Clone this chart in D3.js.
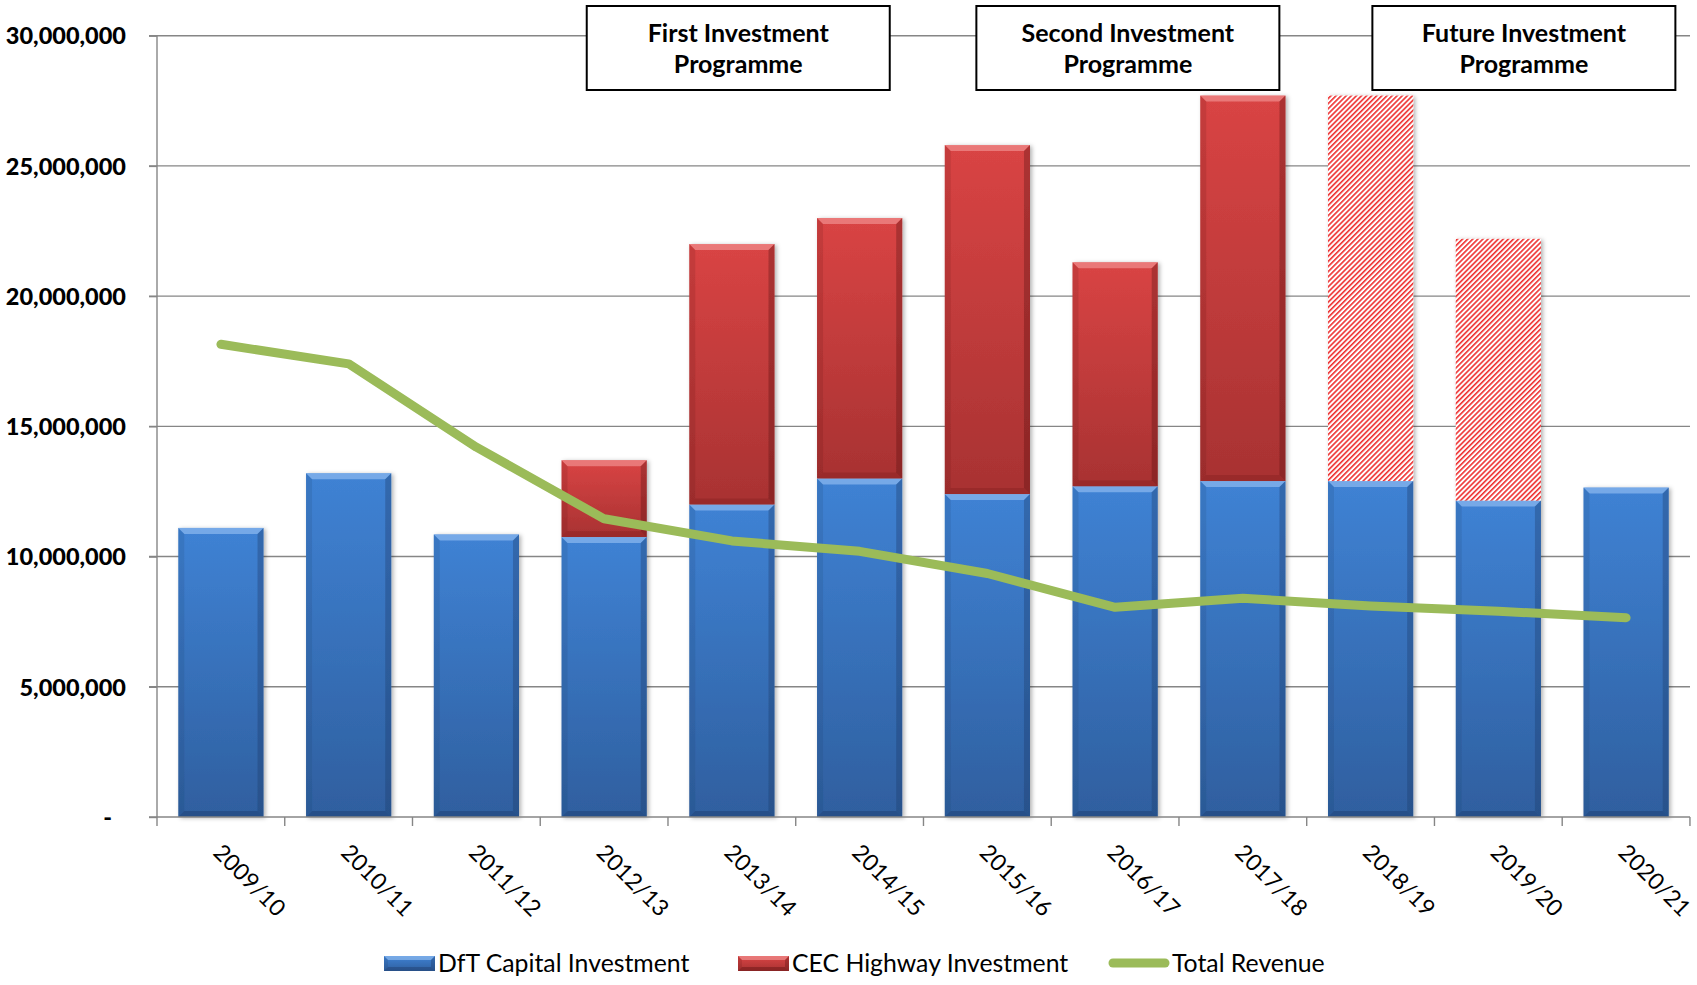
<!DOCTYPE html>
<html>
    <head>
        <meta charset="utf-8">
        <title>Highway Investment</title>
        <style>
body {
    margin: 0;
    background-color: white;
}

text {
    font-family: Lato, "Open Sans", sans-serif;
    fill: black;
}

.grid line {
    stroke: #868686;
    stroke-width: 1.4;
}

.axis path, .axis line {
    stroke: #868686;
    stroke-width: 1.4;
    fill: none;
}
</style>
        <script src="https://cdn.jsdelivr.net/npm/d3@7"></script>
    </head>
    <body>
        <script>
var width = 1697,
    height = 985;

var categories = ["2009/10", "2010/11", "2011/12", "2012/13", "2013/14", "2014/15",
                  "2015/16", "2016/17", "2017/18", "2018/19", "2019/20", "2020/21"];
var dftCapital = [11.1, 13.2, 10.85, 10.75, 12.0, 13.0, 12.4, 12.7, 12.9, 12.9, 12.15, 12.65];
var cecHighway = [0, 0, 0, 2.95, 10.0, 10.0, 13.4, 8.6, 14.8, 0, 0, 0];
var cecPlanned = [0, 0, 0, 0, 0, 0, 0, 0, 0, 14.8, 10.05, 0];
var totalRevenue = [18.15, 17.4, 14.2, 11.45, 10.6, 10.2, 9.35, 8.05, 8.4, 8.1, 7.9, 7.65];
var yTicks = [0, 5, 10, 15, 20, 25, 30];
var programmes = [
    {lines: ["First Investment", "Programme"], centre: 4.55},
    {lines: ["Second Investment", "Programme"], centre: 7.6},
    {lines: ["Future Investment", "Programme"], centre: 10.7}
];
var legendItems = ["DfT Capital Investment", "CEC Highway Investment", "Total Revenue"];

var M = 1e6;
var plotLeft = 157, plotRight = 1690, plotTop = 35.7, plotBottom = 817;

var svg = d3.select('body')
    .append('svg')
    .attr('width', width)
    .attr('height', height);

var defs = svg.append('defs');

function gradient(id, c1, c2) {
    var g = defs.append('linearGradient').attr('id', id)
        .attr('x1', 0).attr('y1', 0).attr('x2', 0).attr('y2', 1);
    g.append('stop').attr('offset', '0%').attr('stop-color', c1);
    g.append('stop').attr('offset', '100%').attr('stop-color', c2);
}
gradient('blueGrad', '#3f82d4', '#2f5f9f');
gradient('redGrad', '#d94444', '#a83232');

var hatch = defs.append('pattern').attr('id', 'hatch')
    .attr('patternUnits', 'userSpaceOnUse')
    .attr('width', 3.6).attr('height', 10)
    .attr('patternTransform', 'rotate(45)');
hatch.append('rect').attr('width', 3.6).attr('height', 10).attr('fill', 'white');
hatch.append('rect').attr('width', 1.6).attr('height', 10).attr('fill', '#ee3030');

var shadow = defs.append('filter').attr('id', 'shadow')
    .attr('x', '-10%').attr('y', '-10%').attr('width', '130%').attr('height', '130%');
shadow.append('feDropShadow').attr('dx', 2).attr('dy', 1).attr('stdDeviation', 2)
    .attr('flood-color', '#000').attr('flood-opacity', 0.3);

var x = d3.scaleBand()
    .domain(categories)
    .range([plotLeft, plotRight])
    .paddingInner(0.333)
    .paddingOuter(0.1667);

var y = d3.scaleLinear()
    .domain([0, 30 * M])
    .range([plotBottom, plotTop]);

// gridlines
svg.append('g')
    .attr('class', 'grid')
    .selectAll('line')
    .data(yTicks.slice(1))
    .enter().append('line')
    .attr('x1', plotLeft - 8)
    .attr('x2', plotRight)
    .attr('y1', function (d) { return y(d * M); })
    .attr('y2', function (d) { return y(d * M); });

// y axis
var yAxis = svg.append('g')
    .attr('class', 'axis')
    .attr('transform', 'translate(' + plotLeft + ',0)')
    .call(d3.axisLeft(y).tickValues(yTicks.map(function (d) { return d * M; }))
        .tickSize(8).tickSizeOuter(0).tickPadding(23)
        .tickFormat(function (d) { return d === 0 ? '-' : d3.format(',')(d); }));
yAxis.select('.domain').remove();
yAxis.selectAll('text')
    .style('font-size', '23.5px')
    .style('font-weight', '900')
    .attr('dy', '0.35em');
yAxis.selectAll('.tick').filter(function (d) { return d === 0; })
    .select('text').attr('dx', -14);

// bevelled bar segment
function bevelBar(g, bx, by, bw, bh, fill, light, dark, b, bottomOp) {
    b = Math.min(b, bh / 2);
    g.append('rect').attr('x', bx).attr('y', by).attr('width', bw).attr('height', bh)
        .attr('fill', fill);
    if (bh <= 0) return;
    g.append('polygon')
        .attr('points', [[bx, by], [bx + bw, by], [bx + bw - b, by + b], [bx + b, by + b]].join(' '))
        .attr('fill', light).attr('opacity', 0.55);
    g.append('polygon')
        .attr('points', [[bx + bw, by], [bx + bw, by + bh], [bx + bw - b, by + bh - b], [bx + bw - b, by + b]].join(' '))
        .attr('fill', dark).attr('opacity', 0.35);
    g.append('polygon')
        .attr('points', [[bx, by], [bx + b, by + b], [bx + b, by + bh - b], [bx, by + bh]].join(' '))
        .attr('fill', dark).attr('opacity', 0.15);
    g.append('polygon')
        .attr('points', [[bx, by + bh], [bx + b, by + bh - b], [bx + bw - b, by + bh - b], [bx + bw, by + bh]].join(' '))
        .attr('fill', dark).attr('opacity', bottomOp);
}

var bars = svg.append('g').attr('class', 'bars');

categories.forEach(function (c, i) {
    var g = bars.append('g').attr('filter', 'url(#shadow)');
    var bx = x(c), bw = x.bandwidth();
    var y0 = y(0), y1 = y(dftCapital[i] * M);
    bevelBar(g, bx, y1, bw, y0 - y1, 'url(#blueGrad)', '#a4cbf7', '#1d3a66', 6, 0.4);
    if (cecHighway[i] > 0) {
        var y2 = y((dftCapital[i] + cecHighway[i]) * M);
        bevelBar(g, bx, y2, bw, y1 - y2, 'url(#redGrad)', '#f7a4a4', '#5a1010', 6, 0.18);
    }
    if (cecPlanned[i] > 0) {
        var y3 = y((dftCapital[i] + cecPlanned[i]) * M);
        g.append('rect').attr('x', bx).attr('y', y3).attr('width', bw).attr('height', y1 - y3)
            .attr('fill', 'url(#hatch)');
    }
});

// x axis
var xAxis = svg.append('g')
    .attr('class', 'axis')
    .attr('transform', 'translate(0,' + plotBottom + ')');
xAxis.append('line')
    .attr('x1', plotLeft - 8).attr('x2', plotRight).attr('y1', 0).attr('y2', 0);
xAxis.selectAll('.tk')
    .data(d3.range(categories.length + 1))
    .enter().append('line')
    .attr('class', 'tk')
    .attr('x1', function (d) { return plotLeft + d * x.step(); })
    .attr('x2', function (d) { return plotLeft + d * x.step(); })
    .attr('y1', 0).attr('y2', 9);
svg.append('line')
    .attr('x1', plotLeft).attr('x2', plotLeft).attr('y1', plotTop).attr('y2', plotBottom)
    .attr('stroke', '#868686').attr('stroke-width', 1.4);

svg.append('g')
    .selectAll('text')
    .data(categories)
    .enter().append('text')
    .attr('transform', function (d) {
        return 'translate(' + (x(d) + x.bandwidth() / 2 - 9) + ',' + (plotBottom + 37) + ') rotate(45)';
    })
    .style('font-size', '23px')
    .text(function (d) { return d; });

// revenue line
var line = d3.line()
    .x(function (d, i) { return x(categories[i]) + x.bandwidth() / 2; })
    .y(function (d) { return y(d * M); });

svg.append('path')
    .datum(totalRevenue)
    .attr('d', line)
    .attr('fill', 'none')
    .attr('stroke', '#9bbb59')
    .attr('stroke-width', 9)
    .attr('stroke-linejoin', 'round')
    .attr('stroke-linecap', 'round');

// programme boxes
var boxW = 303, boxTop = 6, boxH = 84;
var pg = svg.append('g').selectAll('g')
    .data(programmes)
    .enter().append('g')
    .attr('transform', function (d) {
        return 'translate(' + (plotLeft + d.centre * x.step() - boxW / 2) + ',' + boxTop + ')';
    });
pg.append('rect')
    .attr('width', boxW).attr('height', boxH)
    .attr('fill', 'white').attr('stroke', 'black').attr('stroke-width', 2);
pg.each(function (d) {
    var t = d3.select(this);
    d.lines.forEach(function (l, k) {
        t.append('text')
            .attr('x', boxW / 2)
            .attr('y', 36 + k * 31)
            .attr('text-anchor', 'middle')
            .style('font-size', '25px')
            .style('font-weight', 'bold')
            .text(l);
    });
});

// legend
var legend = svg.append('g').attr('transform', 'translate(0,963)');
var lx = [384, 738, 1109];
legendItems.forEach(function (name, i) {
    var g = legend.append('g').attr('transform', 'translate(' + lx[i] + ',0)');
    if (i === 0) {
        bevelBar(g, 0, -7, 51, 15, 'url(#blueGrad)', '#a4cbf7', '#1d3a66', 4, 0.4);
    } else if (i === 1) {
        bevelBar(g, 0, -7, 51, 15, 'url(#redGrad)', '#f7a4a4', '#5a1010', 4, 0.4);
    } else {
        g.append('line').attr('x1', 4).attr('x2', 56).attr('y1', 0).attr('y2', 0)
            .attr('stroke', '#9bbb59').attr('stroke-width', 9).attr('stroke-linecap', 'round');
    }
    g.append('text')
        .attr('x', i === 2 ? 63 : 54)
        .attr('y', 0)
        .attr('dy', '0.35em')
        .style('font-size', '24.8px')
        .text(name);
});

        </script>
    </body>
</html>
